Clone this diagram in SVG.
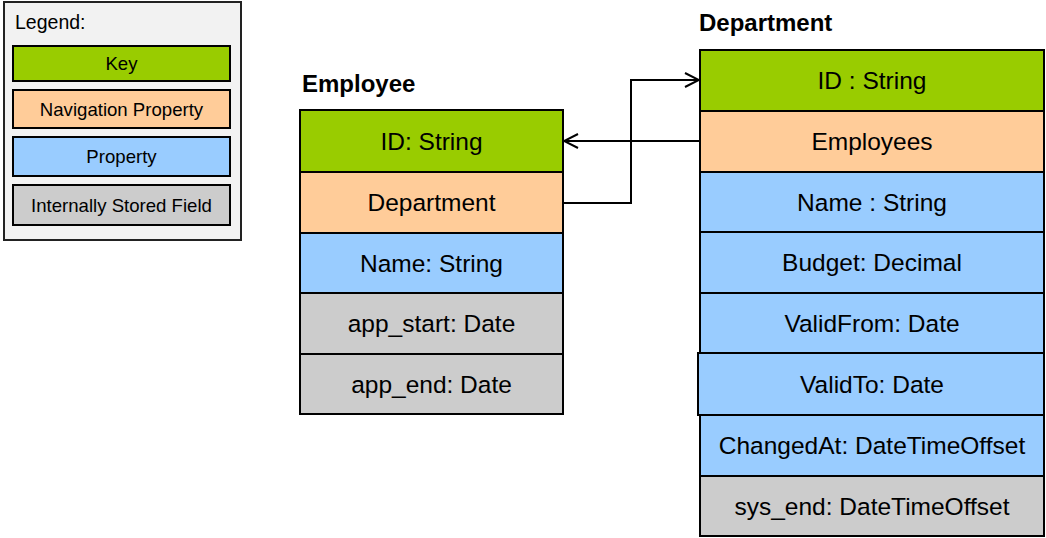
<svg xmlns="http://www.w3.org/2000/svg" width="1046" height="538" viewBox="0 0 1046 538">
<defs>
<style>
.t{font-family:"Liberation Sans",Arial,sans-serif;font-size:24.5px;fill:#000;text-anchor:middle}
.lt{font-family:"Liberation Sans",Arial,sans-serif;font-size:18.6px;fill:#000;text-anchor:middle}
.h{font-family:"Liberation Sans",Arial,sans-serif;font-size:24px;font-weight:bold;fill:#000}
.k{fill:#99cc00;stroke:#000;stroke-width:2}
.n{fill:#ffcc99;stroke:#000;stroke-width:2}
.p{fill:#99ccff;stroke:#000;stroke-width:2}
.s{fill:#cccccc;stroke:#000;stroke-width:2}
.c{fill:none;stroke:#000;stroke-width:2}
</style>
<marker id="arr" viewBox="0 0 16 16" refX="15" refY="8" markerWidth="16" markerHeight="16" markerUnits="userSpaceOnUse" orient="auto">
<path d="M1,1 L15,8 L1,15" fill="none" stroke="#000" stroke-width="2"/>
</marker>
</defs>
<rect width="1046" height="538" fill="#fff"/>
<g id="legend">
<rect x="4" y="2" width="237" height="238" fill="#f2f2f2" stroke="#222" stroke-width="2"/>
<text x="15" y="29" font-family="Liberation Sans, Arial, sans-serif" font-size="19.5" fill="#000">Legend:</text>
<rect class="k" x="13" y="46" width="217" height="35"/>
<text class="lt" x="121.5" y="70">Key</text>
<rect class="n" x="13" y="90" width="217" height="38"/>
<text class="lt" x="121.5" y="115.5">Navigation Property</text>
<rect class="p" x="13" y="137" width="217" height="39"/>
<text class="lt" x="121.5" y="163">Property</text>
<rect class="s" x="13" y="185" width="217" height="40"/>
<text class="lt" x="121.5" y="211.5">Internally Stored Field</text>
</g>
<g id="employee">
<text class="h" x="302" y="92">Employee</text>
<rect class="k" x="300" y="110" width="263" height="62"/>
<text class="t" x="431.5" y="149.5">ID: String</text>
<rect class="n" x="300" y="172" width="263" height="61"/>
<text class="t" x="431.5" y="211">Department</text>
<rect class="p" x="300" y="233" width="263" height="60"/>
<text class="t" x="431.5" y="271.5">Name: String</text>
<rect class="s" x="300" y="293" width="263" height="61"/>
<text class="t" x="431.5" y="332">app_start: Date</text>
<rect class="s" x="300" y="354" width="263" height="60"/>
<text class="t" x="431.5" y="392.5">app_end: Date</text>
</g>
<g id="department">
<text class="h" x="699" y="31">Department</text>
<rect class="k" x="700" y="50" width="344" height="61"/>
<text class="t" x="872" y="89">ID : String</text>
<rect class="n" x="700" y="111" width="344" height="61"/>
<text class="t" x="872" y="150">Employees</text>
<rect class="p" x="700" y="172" width="344" height="60"/>
<text class="t" x="872" y="210.5">Name : String</text>
<rect class="p" x="700" y="232" width="344" height="61"/>
<text class="t" x="872" y="271">Budget: Decimal</text>
<rect class="p" x="700" y="293" width="344" height="60"/>
<text class="t" x="872" y="331.5">ValidFrom: Date</text>
<rect class="p" x="698" y="353" width="346" height="62"/>
<text class="t" x="872" y="392.5">ValidTo: Date</text>
<rect class="p" x="700" y="415" width="344" height="61"/>
<text class="t" x="872" y="454">ChangedAt: DateTimeOffset</text>
<rect class="s" x="700" y="476" width="344" height="60"/>
<text class="t" x="872" y="514.5">sys_end: DateTimeOffset</text>
</g>
<g id="connectors">
<path class="c" d="M563,203 H631 V80 H699" marker-end="url(#arr)"/>
<path class="c" d="M700,141 H564" marker-end="url(#arr)"/>
</g>
</svg>
